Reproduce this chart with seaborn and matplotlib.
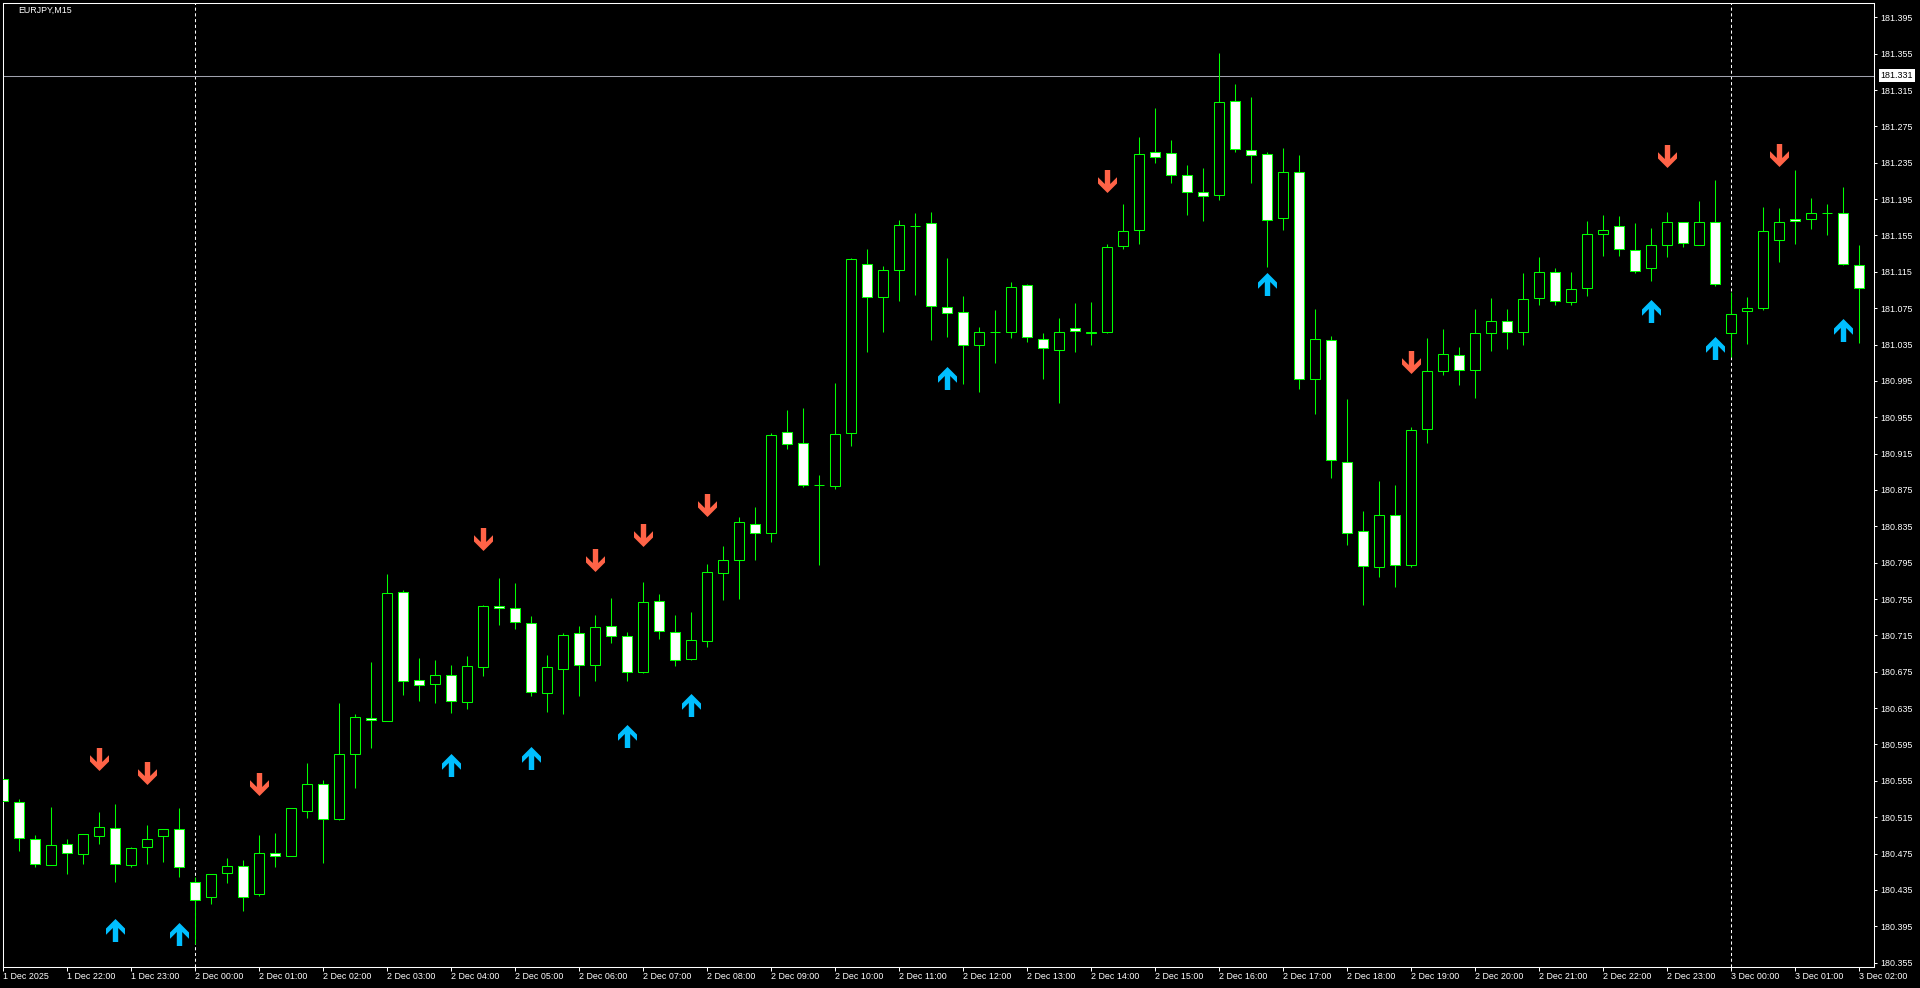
import numpy as np
import pandas as pd
import matplotlib
matplotlib.use("Agg")
import matplotlib.pyplot as plt
import matplotlib.transforms as mtransforms
from matplotlib.path import Path
from matplotlib.markers import MarkerStyle
import seaborn as sns

# Chart data (EURJPY M15, bars from 1 Dec 21:00 to 3 Dec 02:00)
symbol = "EURJPY,M15"

open_ = [180.557, 180.532, 180.491, 180.462, 180.485, 180.474, 180.494, 180.503, 180.462, 180.482,
         180.494, 180.502, 180.444, 180.427, 180.454, 180.461, 180.430, 180.476, 180.472, 180.522,
         180.551, 180.513, 180.584, 180.624, 180.621, 180.763, 180.666, 180.661, 180.671, 180.642,
         180.680, 180.747, 180.745, 180.729, 180.652, 180.678, 180.718, 180.683, 180.725, 180.714,
         180.675, 180.753, 180.719, 180.689, 180.709, 180.784, 180.798, 180.838, 180.828, 180.939,
         180.927, 180.880, 180.879, 180.938, 181.124, 181.087, 181.117, 181.165, 181.169, 181.076,
         181.071, 181.034, 181.049, 181.049, 181.100, 181.041, 181.029, 181.053, 181.048, 181.049,
         181.143, 181.161, 181.247, 181.246, 181.221, 181.203, 181.199, 181.303, 181.249, 181.245,
         181.174, 181.225, 180.997, 181.040, 180.906, 180.830, 180.790, 180.848, 180.792, 180.942,
         181.006, 181.023, 181.007, 181.048, 181.061, 181.049, 181.086, 181.115, 181.082, 181.097,
         181.157, 181.165, 181.139, 181.119, 181.145, 181.170, 181.145, 181.170, 181.048, 181.072,
         181.075, 181.150, 181.173, 181.173, 181.180, 181.180, 181.122]

high = [180.569, 180.535, 180.495, 180.526, 180.491, 180.496, 180.521, 180.529, 180.482, 180.506,
        180.502, 180.525, 180.449, 180.453, 180.470, 180.468, 180.495, 180.498, 180.525, 180.575,
        180.556, 180.641, 180.628, 180.686, 180.783, 180.765, 180.690, 180.688, 180.682, 180.692,
        180.748, 180.778, 180.773, 180.736, 180.693, 180.718, 180.725, 180.737, 180.756, 180.719,
        180.774, 180.761, 180.737, 180.741, 180.794, 180.813, 180.845, 180.856, 180.938, 180.963,
        180.965, 180.892, 180.993, 181.130, 181.140, 181.121, 181.172, 181.180, 181.181, 181.130,
        181.088, 181.054, 181.073, 181.104, 181.102, 181.048, 181.064, 181.081, 181.082, 181.146,
        181.190, 181.263, 181.295, 181.260, 181.233, 181.229, 181.356, 181.322, 181.307, 181.247,
        181.251, 181.243, 181.074, 181.044, 180.975, 180.852, 180.885, 180.880, 180.944, 181.042,
        181.052, 181.032, 181.074, 181.086, 181.074, 181.114, 181.131, 181.119, 181.115, 181.171,
        181.177, 181.176, 181.169, 181.163, 181.181, 181.170, 181.193, 181.216, 181.093, 181.087,
        181.186, 181.185, 181.227, 181.196, 181.190, 181.208, 181.145]

low = [180.515, 180.478, 180.460, 180.462, 180.452, 180.463, 180.485, 180.444, 180.460, 180.463,
       180.466, 180.449, 180.376, 180.420, 180.443, 180.412, 180.428, 180.460, 180.472, 180.514,
       180.465, 180.512, 180.547, 180.591, 180.621, 180.649, 180.643, 180.641, 180.630, 180.634,
       180.670, 180.727, 180.722, 180.648, 180.631, 180.629, 180.648, 180.665, 180.707, 180.665,
       180.674, 180.711, 180.681, 180.688, 180.702, 180.754, 180.755, 180.798, 180.818, 180.920,
       180.878, 180.793, 180.876, 180.923, 181.027, 181.049, 181.083, 181.089, 181.040, 181.043,
       180.992, 180.983, 181.015, 181.042, 181.038, 180.997, 180.971, 181.027, 181.035, 181.048,
       181.140, 181.146, 181.235, 181.213, 181.177, 181.171, 181.194, 181.247, 181.213, 181.120,
       181.161, 180.986, 180.959, 180.888, 180.814, 180.748, 180.779, 180.768, 180.790, 180.927,
       181.002, 180.991, 180.976, 181.028, 181.030, 181.035, 181.079, 181.079, 181.078, 181.088,
       181.132, 181.132, 181.114, 181.105, 181.131, 181.142, 181.145, 181.099, 181.021, 181.036,
       181.073, 181.126, 181.146, 181.162, 181.156, 181.123, 181.037]

close = [180.533, 180.492, 180.463, 180.484, 180.476, 180.496, 180.504, 180.463, 180.481, 180.491,
         180.502, 180.460, 180.424, 180.453, 180.461, 180.427, 180.476, 180.472, 180.525, 180.552,
         180.513, 180.584, 180.625, 180.622, 180.762, 180.665, 180.660, 180.671, 180.643, 180.681,
         180.747, 180.745, 180.730, 180.653, 180.680, 180.716, 180.682, 180.724, 180.714, 180.675,
         180.752, 180.720, 180.688, 180.710, 180.785, 180.798, 180.840, 180.828, 180.936, 180.926,
         180.881, 180.880, 180.937, 181.129, 181.087, 181.117, 181.167, 181.165, 181.077, 181.070,
         181.034, 181.049, 181.049, 181.098, 181.043, 181.031, 181.049, 181.050, 181.049, 181.142,
         181.160, 181.245, 181.241, 181.221, 181.203, 181.198, 181.302, 181.250, 181.243, 181.172,
         181.225, 180.997, 181.041, 180.908, 180.828, 180.791, 180.848, 180.792, 180.941, 181.006,
         181.025, 181.007, 181.048, 181.061, 181.049, 181.085, 181.115, 181.083, 181.096, 181.157,
         181.161, 181.140, 181.116, 181.144, 181.170, 181.147, 181.170, 181.102, 181.069, 181.075,
         181.160, 181.170, 181.171, 181.180, 181.180, 181.124, 181.097]

# signal arrows (bar index, price)
sell_bars = [6, 9, 16, 30, 37, 40, 44, 69, 88, 104, 111]
sell_prices = [180.579, 180.564, 180.551, 180.821, 180.798, 180.826, 180.858, 181.215, 181.016, 181.242, 181.243]
buy_bars = [7, 11, 28, 33, 39, 43, 59, 79, 103, 107, 115]
buy_prices = [180.391, 180.387, 180.572, 180.580, 180.604, 180.638, 180.998, 181.102, 181.072, 181.031, 181.051]

current_price = 181.331
day_breaks = [12, 108]

time_ticks = list(range(0, 117, 4))
time_labels = ["1 Dec 2025", "1 Dec 22:00", "1 Dec 23:00",
               "2 Dec 00:00", "2 Dec 01:00", "2 Dec 02:00", "2 Dec 03:00", "2 Dec 04:00", "2 Dec 05:00",
               "2 Dec 06:00", "2 Dec 07:00", "2 Dec 08:00", "2 Dec 09:00", "2 Dec 10:00", "2 Dec 11:00",
               "2 Dec 12:00", "2 Dec 13:00", "2 Dec 14:00", "2 Dec 15:00", "2 Dec 16:00", "2 Dec 17:00",
               "2 Dec 18:00", "2 Dec 19:00", "2 Dec 20:00", "2 Dec 21:00", "2 Dec 22:00", "2 Dec 23:00",
               "3 Dec 00:00", "3 Dec 01:00", "3 Dec 02:00"]
price_ticks = [181.395, 181.355, 181.315, 181.275, 181.235, 181.195, 181.155, 181.115, 181.075,
               181.035, 180.995, 180.955, 180.915, 180.875, 180.835, 180.795, 180.755, 180.715,
               180.675, 180.635, 180.595, 180.555, 180.515, 180.475, 180.435, 180.395, 180.355]

df = pd.DataFrame({"open": open_, "high": high, "low": low, "close": close})
df["bar"] = np.arange(len(df))
df["bear"] = df["close"] < df["open"]
df["body_lo"] = df[["open", "close"]].min(axis=1)
df["body_h"] = (df["close"] - df["open"]).abs()

# Style
sns.set_theme(style="dark", rc={"axes.facecolor": "black", "figure.facecolor": "black",
                                "axes.grid": False})
plt.rcParams["font.family"] = ["Liberation Sans", "DejaVu Sans"]

LIME = "#00FF00"
FS = 6.4
W, H = 1920, 988
fig = plt.figure(figsize=(W / 100, H / 100), dpi=100)
left, right, top, bottom = 2.7, 1874.3, 2.7, 967.0
ax = fig.add_axes([left / W, 1 - bottom / H, (right - left) / W, (bottom - top) / H])
ax.set_facecolor("black")

# Candles: wicks then bodies
ax.vlines(df["bar"], df["low"], df["high"], color=LIME, linewidth=0.75, zorder=2)
ax.bar(df["bar"], df["body_h"], bottom=df["body_lo"], width=0.58,
       color=np.where(df["bear"], "white", "black"), edgecolor=LIME, linewidth=0.75, zorder=3)

# Arrow markers
down_verts = [(-2.7, 11.5), (2.7, 11.5), (2.7, -2.5), (9.5, 4.3), (9.5, -2), (0, -11.5),
              (-9.5, -2), (-9.5, 4.3), (-2.7, -2.5), (-2.7, 11.5)]
codes = [Path.MOVETO] + [Path.LINETO] * 8 + [Path.CLOSEPOLY]
down_arrow = MarkerStyle(Path(down_verts, codes))
up_arrow = MarkerStyle(Path([(x, -y) for x, y in down_verts], codes))

sns.scatterplot(x=sell_bars, y=sell_prices, marker=down_arrow, s=274, color="#FF6347",
                linewidth=0, ax=ax, zorder=4, legend=False)
sns.scatterplot(x=buy_bars, y=buy_prices, marker=up_arrow, s=274, color="#00BFFF",
                linewidth=0, ax=ax, zorder=4, legend=False)

# Day separators and current price line
for b in day_breaks:
    ax.axvline(b, color="white", linewidth=0.75, linestyle=(0, (3, 2.5)), zorder=1)
ax.axhline(current_price, color="#A0A2AE", linewidth=0.75, zorder=1)

ax.set_xlim(-0.02, 116.956)
ax.set_ylim(180.3502, 181.4111)

for s in ax.spines.values():
    s.set_color("white")
    s.set_linewidth(0.75)
    s.set_visible(True)

# Price axis
ax.set_yticks(price_ticks)
ax.set_yticklabels([f"{p:.3f}" for p in price_ticks])
ax.tick_params(axis="y", left=False, right=True, labelleft=False, labelright=True,
               length=1.8, width=0.72, pad=2.8, colors="white", labelsize=FS, direction="out")

# Time axis
ax.set_xticks(time_ticks)
ax.set_xticklabels([])
ax.tick_params(axis="x", bottom=True, length=2.7, width=0.72, colors="white", direction="out")
lab_tr = mtransforms.offset_copy(ax.get_xaxis_transform(), fig=fig, y=-9.7, units="dots")
for t, lab in zip(time_ticks, time_labels):
    ax.text(t, 0, lab, transform=lab_tr, ha="left", va="center", color="white", fontsize=FS)

# current price box
box_tr = mtransforms.offset_copy(ax.get_yaxis_transform(), fig=fig, x=6, units="dots")
ax.text(1.0, current_price, f"{current_price:.3f}", transform=box_tr, ha="left", va="center",
        color="black", fontsize=FS, zorder=6,
        bbox=dict(boxstyle="square,pad=0.2", fc="white", ec="none"))

fig.text(18 / W, 1 - 10.5 / H, symbol, color="white", fontsize=FS, ha="left", va="center")

fig.savefig("out.png", dpi=100, facecolor="black")
